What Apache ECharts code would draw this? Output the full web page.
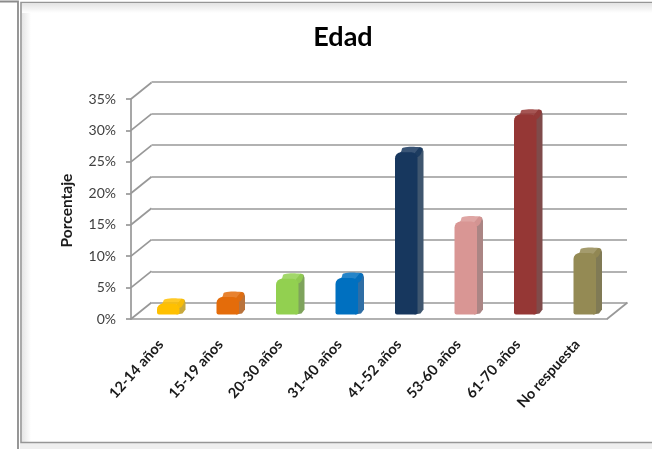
<!DOCTYPE html>
<html><head><meta charset="utf-8">
<style>html,body{margin:0;padding:0;background:#fff}#c{width:652px;height:449px}</style>
<script src="https://cdn.jsdelivr.net/npm/echarts@6/dist/echarts.min.js"></script>
</head><body><div id="c"></div>
<script>
const categories = ['12-14 años','15-19 años','20-30 años','31-40 años','41-52 años','53-60 años','61-70 años','No respuesta'];
const values = [1.7,2.8,5.7,5.8,25.8,14.8,31.8,9.8];
const colors = ['#ffc000','#e46c0a','#92d050','#0070c0','#17375e','#d99694','#953735','#948a54'];
const sideColors = ['#c9a93c','#b9733c','#7ea35c','#2f6ea5','#3f566f','#ab8584','#7f4b4a','#807a55'];
const yTicks = [0,5,10,15,20,25,30,35];
const title = 'Edad', yName = 'Porcentaje';
const DX = 20.5, DY = 16.5, BAR_W = 22.5, SHIFT = 7.5, LIFT = 4.5, SIDE = 6, CAP = 6;
const line = {color:'#989898',width:1.7};
function strip(x,y,w,h,x2,y2,c1,c2){return {type:'rect',silent:true,z:0,shape:{x,y,width:w,height:h},style:{fill:new echarts.graphic.LinearGradient(0,0,x2,y2,[{offset:0,color:c1},{offset:1,color:c2}])}};}
const chart = echarts.init(document.getElementById('c'),null,{renderer:'canvas'});
chart.setOption({
  animation:false,
  textStyle:{fontFamily:'Lato'},
  title:{text:title,left:338,top:19,textAlign:'center',textStyle:{fontFamily:'Lato',fontSize:27,fontWeight:'bold',color:'#000'}},
  graphic:[
    strip(22,4,9,438,1,0,'#e6e6e6','#ffffff'),
    strip(22,4,630,9,0,1,'#e6e6e6','#ffffff'),
    {type:'rect',silent:true,z:0,shape:{x:20,y:443,width:632,height:6},style:{fill:'#efefef'}},
    {type:'polyline',silent:true,z:1,shape:{points:[[0,1.5],[18,1.5],[18,449]]},style:{fill:null,stroke:'#8c8c8c',lineWidth:1.8}},
    {type:'polyline',silent:true,z:1,shape:{points:[[652,2.5],[21,2.5],[21,442.5],[652,442.5]]},style:{fill:null,stroke:'#969696',lineWidth:1.6}}
  ],
  grid:[
    {left:131,top:99,width:476,height:220},
    {left:151.5,top:82,width:475.5,height:221}
  ],
  xAxis:[
    {type:'category',gridIndex:0,data:categories,axisTick:{show:false},axisLine:{lineStyle:line},
     axisLabel:{rotate:48,interval:0,margin:23,fontFamily:'Lato',fontWeight:'bold',fontSize:14.5,color:'#1a1a1a'}},
    {type:'category',gridIndex:1,data:categories,show:false}
  ],
  yAxis:[
    {type:'value',gridIndex:0,min:0,max:35,interval:5,name:yName,nameLocation:'middle',nameGap:56,
     nameTextStyle:{fontFamily:'Lato',fontWeight:'bold',fontSize:15.5,color:'#1a1a1a',padding:[0,3,0,0]},
     axisLine:{show:true,lineStyle:line},axisTick:{show:true,length:5,lineStyle:line},splitLine:{show:false},
     axisLabel:{formatter:'{value}%',margin:15,padding:[6,0,0,0],fontFamily:'Lato',fontSize:14,color:'#404040'}},
    {type:'value',gridIndex:1,min:0,max:35,interval:5,axisLine:{show:false},axisTick:{show:false},axisLabel:{show:false},
     splitLine:{show:true,lineStyle:line}}
  ],
  series:[
    {type:'custom',xAxisIndex:0,yAxisIndex:0,silent:true,z:2,data:yTicks.map(v=>[0,v]),
     renderItem(p,api){
       const c=api.coord([0,api.value(1)]), hw=api.size([1,0])[0]/2, x=c[0]-hw;
       return {type:'line',shape:{x1:x,y1:c[1],x2:x+DX,y2:c[1]-DY},style:{stroke:line.color,lineWidth:line.width,fill:null}};
     }},
    {type:'custom',xAxisIndex:0,yAxisIndex:0,silent:true,z:2,data:[[categories.length-1,0]],
     renderItem(p,api){
       const c=api.coord([api.value(0),0]), hw=api.size([1,0])[0]/2, x=c[0]+hw;
       return {type:'line',shape:{x1:x,y1:c[1],x2:x+DX,y2:c[1]-DY},style:{stroke:line.color,lineWidth:line.width,fill:null}};
     }},
    {type:'custom',xAxisIndex:0,yAxisIndex:0,silent:true,z:5,clip:false,
     data:values.map((v,i)=>[i,v]),
     renderItem(p,api){
       const i=api.value(0), c=api.coord([i,api.value(1)]), b=api.coord([i,0]);
       const x0=c[0]+SHIFT-BAR_W/2, x1=x0+BAR_W, yB=b[1]-LIFT;
       const ytop=c[1]-LIFT, r=Math.min(CAP,(yB-ytop)/2);
       const sw=SIDE, up=SIDE-1;
       return {type:'group',children:[
         {type:'polygon',shape:{points:[[x1-3,ytop+1],[x1+sw-4,ytop-up],[x1+sw-1,ytop-up+1],[x1+sw,ytop-up+r*0.7],[x1+sw,yB-up],[x1+sw-3,yB-1],[x1-3,yB]]},style:{fill:sideColors[i]}},
         {type:'polygon',shape:{smooth:0.4,points:[[x0+1,ytop+r*0.8],[x0+r,ytop-0.5],[x0+sw+2,ytop-up+0.5],[x1+sw-3,ytop-up],[x1+sw-1,ytop-up+2],[x1,ytop+r*0.8]]},style:{fill:colors[i],opacity:0.85}},
         {type:'rect',shape:{x:x0,y:ytop,width:BAR_W,height:yB-ytop,r:[r,r,2,2]},style:{fill:colors[i]}}
       ]};
     }}
  ]
});
</script></body></html>
